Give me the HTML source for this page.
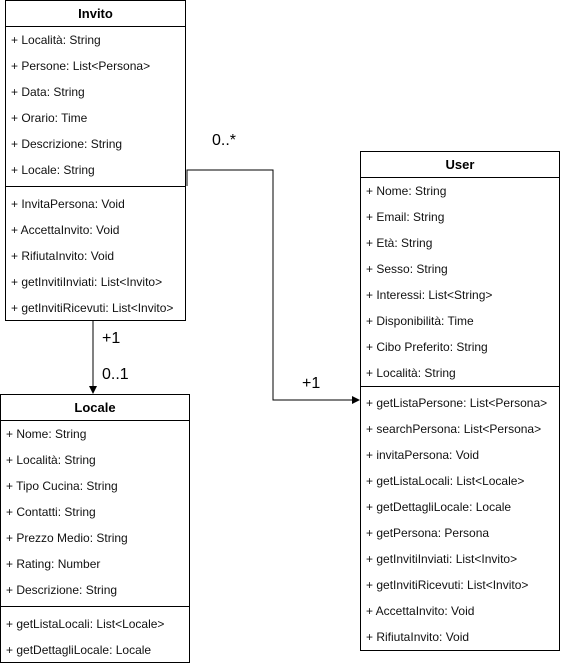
<!DOCTYPE html>
<html><head><style>
body{margin:0;width:561px;height:666px;background:#fff;font-family:"Liberation Sans",Arial,sans-serif;position:relative;overflow:hidden}
.b{position:absolute;border:1px solid #000;background:#fff;box-sizing:border-box}
.h{height:25px;line-height:26px;text-align:center;font-weight:bold;font-size:13px;border-bottom:1px solid #000}
.r{height:26px;line-height:26px;font-size:12px;padding-left:5px;white-space:nowrap;color:#111}
.s{border-top:1px solid #000;margin:3px 0 4px 0}
.u .s{margin:0 0 3px 0}
.t{position:absolute;font-size:16px}
</style></head><body>
<svg width="561" height="666" style="position:absolute;left:0;top:0">
<polyline points="187,186 187,170 273,170 273,400 352,400" fill="none" stroke="#000"/>
<polygon points="360,400 352,396 352,404" fill="#000"/>
<line x1="93" y1="320" x2="93" y2="386" stroke="#000"/>
<polygon points="93,394 89,386 97,386" fill="#000"/>
</svg>
<div class="b" style="left:5px;top:0;width:181px;height:321px">
<div class="h">Invito</div>
<div class="r">+ Località: String</div><div class="r">+ Persone: List&lt;Persona&gt;</div><div class="r">+ Data: String</div><div class="r">+ Orario: Time</div><div class="r">+ Descrizione: String</div><div class="r">+ Locale: String</div>
<div class="s"></div>
<div class="r">+ InvitaPersona: Void</div><div class="r">+ AccettaInvito: Void</div><div class="r">+ RifiutaInvito: Void</div><div class="r">+ getInvitiInviati: List&lt;Invito&gt;</div><div class="r">+ getInvitiRicevuti: List&lt;Invito&gt;</div>
</div>
<div class="b" style="left:0;top:394px;width:190px;height:269px">
<div class="h">Locale</div>
<div class="r">+ Nome: String</div><div class="r">+ Località: String</div><div class="r">+ Tipo Cucina: String</div><div class="r">+ Contatti: String</div><div class="r">+ Prezzo Medio: String</div><div class="r">+ Rating: Number</div><div class="r">+ Descrizione: String</div>
<div class="s"></div>
<div class="r">+ getListaLocali: List&lt;Locale&gt;</div><div class="r">+ getDettagliLocale: Locale</div>
</div>
<div class="b u" style="left:360px;top:151px;width:200px;height:500px">
<div class="h">User</div>
<div class="r">+ Nome: String</div><div class="r">+ Email: String</div><div class="r">+ Età: String</div><div class="r">+ Sesso: String</div><div class="r">+ Interessi: List&lt;String&gt;</div><div class="r">+ Disponibilità: Time</div><div class="r">+ Cibo Preferito: String</div><div class="r">+ Località: String</div>
<div class="s"></div>
<div class="r">+ getListaPersone: List&lt;Persona&gt;</div><div class="r">+ searchPersona: List&lt;Persona&gt;</div><div class="r">+ invitaPersona: Void</div><div class="r">+ getListaLocali: List&lt;Locale&gt;</div><div class="r">+ getDettagliLocale: Locale</div><div class="r">+ getPersona: Persona</div><div class="r">+ getInvitiInviati: List&lt;Invito&gt;</div><div class="r">+ getInvitiRicevuti: List&lt;Invito&gt;</div><div class="r">+ AccettaInvito: Void</div><div class="r">+ RifiutaInvito: Void</div>
</div>
<div class="t" style="left:212px;top:132px">0..*</div>
<div class="t" style="left:102px;top:330px">+1</div>
<div class="t" style="left:102px;top:366px">0..1</div>
<div class="t" style="left:302px;top:375px">+1</div>
</body></html>
